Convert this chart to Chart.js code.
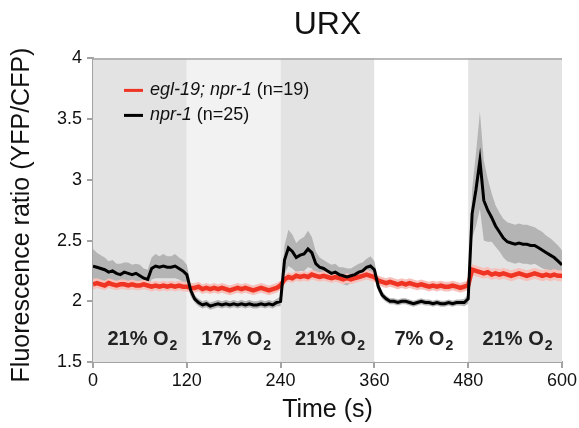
<!DOCTYPE html>
<html>
<head>
<meta charset="utf-8">
<script src="https://cdn.jsdelivr.net/npm/chart.js@4/dist/chart.umd.min.js"></script>
<style>
html,body{margin:0;padding:0;background:#fff;}
#wrap{width:579px;height:428px;position:relative;}
</style>
</head>
<body>
<div id="wrap"><canvas id="c" width="579" height="428"></canvas></div>
<script>
// ---- data ----
const times = [
0,5,10,15,20,25,30,35,40,45,
50,55,60,65,70,75,80,85,90,95,
100,105,110,115,120,125,130,135,140,145,
150,155,160,165,170,175,180,185,190,195,
200,205,210,215,220,225,230,235,240,245,
250,255,260,265,270,275,280,285,290,295,
300,305,310,315,320,325,330,335,340,345,
350,355,360,365,370,375,380,385,390,395,
400,405,410,415,420,425,430,435,440,445,
450,455,460,465,470,475,480,485,490,495,
500,505,510,515,520,525,530,535,540,545,
550,555,560,565,570,575,580,585,590,595,
600];
const nprMean = [
2.29,2.28,2.27,2.26,2.24,2.25,2.23,2.22,2.24,2.23,
2.22,2.23,2.21,2.19,2.18,2.27,2.29,2.28,2.29,2.28,
2.28,2.29,2.27,2.25,2.22,2.09,2.02,1.99,1.97,1.98,
1.96,1.97,1.98,1.97,1.98,1.97,1.98,1.97,1.98,1.97,
1.98,1.97,1.97,1.98,1.97,1.98,1.97,1.99,2.00,2.34,
2.44,2.41,2.36,2.38,2.39,2.43,2.40,2.31,2.28,2.27,
2.25,2.23,2.24,2.22,2.21,2.20,2.21,2.22,2.24,2.25,
2.28,2.29,2.26,2.12,2.05,2.02,2.00,2.00,1.99,2.00,
2.00,1.99,1.98,1.99,2.00,1.99,1.99,1.98,1.99,1.98,
1.98,1.99,1.98,1.99,1.99,1.99,2.02,2.72,2.92,3.16,
2.83,2.75,2.69,2.62,2.57,2.52,2.49,2.48,2.47,2.48,
2.47,2.47,2.46,2.46,2.44,2.42,2.40,2.38,2.36,2.33,
2.30];
const nprSem = [
0.14,0.12,0.11,0.10,0.09,0.09,0.08,0.09,0.08,0.09,
0.08,0.08,0.09,0.08,0.08,0.09,0.10,0.09,0.10,0.09,
0.09,0.10,0.09,0.09,0.08,0.05,0.03,0.03,0.03,0.03,
0.03,0.03,0.03,0.03,0.03,0.03,0.03,0.03,0.03,0.03,
0.03,0.03,0.03,0.03,0.03,0.03,0.03,0.03,0.04,0.12,
0.15,0.14,0.12,0.13,0.14,0.15,0.13,0.10,0.08,0.07,
0.07,0.07,0.07,0.06,0.07,0.07,0.06,0.07,0.07,0.07,
0.07,0.08,0.07,0.04,0.03,0.025,0.025,0.025,0.025,0.025,
0.025,0.025,0.025,0.025,0.025,0.025,0.025,0.025,0.025,0.025,
0.025,0.025,0.025,0.025,0.025,0.03,0.04,0.20,0.30,0.40,
0.33,0.26,0.20,0.17,0.16,0.16,0.16,0.16,0.16,0.16,
0.16,0.16,0.16,0.15,0.15,0.15,0.14,0.14,0.13,0.13,
0.12];
const eglMean = [
2.14,2.15,2.14,2.13,2.15,2.14,2.13,2.14,2.14,2.13,
2.14,2.13,2.13,2.14,2.13,2.12,2.13,2.12,2.13,2.12,
2.13,2.12,2.13,2.12,2.12,2.11,2.11,2.12,2.10,2.11,
2.10,2.11,2.10,2.11,2.10,2.09,2.10,2.11,2.10,2.11,
2.10,2.09,2.10,2.11,2.10,2.09,2.10,2.11,2.13,2.18,
2.20,2.19,2.21,2.20,2.21,2.20,2.22,2.21,2.20,2.21,
2.20,2.19,2.20,2.19,2.18,2.19,2.18,2.19,2.20,2.21,
2.22,2.21,2.20,2.17,2.16,2.15,2.16,2.15,2.14,2.15,
2.14,2.15,2.14,2.13,2.14,2.13,2.12,2.13,2.12,2.13,
2.12,2.12,2.13,2.12,2.11,2.12,2.13,2.26,2.25,2.24,
2.23,2.24,2.22,2.23,2.22,2.23,2.22,2.21,2.22,2.23,
2.22,2.21,2.22,2.23,2.22,2.21,2.22,2.21,2.22,2.21,
2.21];
const eglSem = [
0.045,0.04,0.04,0.04,0.04,0.04,0.04,0.04,0.04,0.04,
0.04,0.04,0.04,0.04,0.04,0.04,0.04,0.04,0.04,0.04,
0.04,0.04,0.04,0.04,0.04,0.04,0.04,0.04,0.04,0.04,
0.04,0.04,0.04,0.04,0.04,0.04,0.04,0.04,0.04,0.04,
0.04,0.04,0.04,0.04,0.04,0.04,0.04,0.04,0.04,0.04,
0.04,0.04,0.04,0.04,0.04,0.04,0.04,0.04,0.04,0.04,
0.04,0.04,0.04,0.04,0.04,0.04,0.04,0.04,0.04,0.04,
0.04,0.04,0.04,0.04,0.04,0.04,0.04,0.04,0.04,0.04,
0.04,0.04,0.04,0.04,0.04,0.04,0.04,0.04,0.04,0.04,
0.04,0.04,0.04,0.04,0.04,0.04,0.04,0.045,0.045,0.045,
0.045,0.045,0.045,0.045,0.045,0.045,0.045,0.045,0.045,0.045,
0.045,0.045,0.045,0.045,0.045,0.045,0.045,0.045,0.045,0.045,
0.045];
const periodStarts = [0,120,240,360,480];
const periodEnds = [120,240,360,480,600];
const periodO2 = ["21%","17%","21%","7%","21%"];
const xTicks = [0,120,240,360,480,600];
const yTicks = [1.5,2,2.5,3,3.5,4];
const yTitle = "Fluorescence ratio (YFP/CFP)";
const seriesNames = [
  {italic:"egl-19; npr-1", plain:" (n=19)"},
  {italic:"npr-1", plain:" (n=25)"}
];

// ---- style ----
const FONT = "'Liberation Sans', Arial, Helvetica, sans-serif";
const RED = "rgb(240,52,36)";
const PINK = "rgb(246,192,187)";
const GREY_BAND = "rgb(180,180,180)";
const AXIS = "#a3a3a3";
const TXT = "#111";
const periodBg = ["rgb(227,227,227)","rgb(242,242,242)","rgb(227,227,227)","rgb(255,255,255)","rgb(227,227,227)"];

function pts(vals){ return times.map((t,i)=>({x:t,y:vals[i]})); }
const nprUp = nprMean.map((v,i)=>v+nprSem[i]);
const nprLo = nprMean.map((v,i)=>v-nprSem[i]);
const eglUp = eglMean.map((v,i)=>v+eglSem[i]);
const eglLo = eglMean.map((v,i)=>v-eglSem[i]);

const bgPlugin = {
  id:'bgPlugin',
  beforeDatasetsDraw(chart){
    const {ctx, chartArea:a, scales:{x}} = chart;
    ctx.save();
    periodStarts.forEach((s,i)=>{
      const x0 = x.getPixelForValue(s), x1 = x.getPixelForValue(periodEnds[i]);
      ctx.fillStyle = periodBg[i];
      ctx.fillRect(x0, a.top, x1-x0, a.bottom-a.top);
    });
    ctx.strokeStyle = AXIS; ctx.lineWidth = 1.5;
    ctx.beginPath(); ctx.moveTo(a.left, a.top+0.5); ctx.lineTo(a.right, a.top+0.5); ctx.stroke();
    ctx.restore();
  },
  afterDatasetsDraw(chart){
    const {ctx, chartArea:a, scales:{x,y}} = chart;
    ctx.save();
    ctx.fillStyle = "#222";
    ctx.textBaseline = 'alphabetic';
    periodStarts.forEach((s,i)=>{
      const cx = x.getPixelForValue((s+periodEnds[i])/2);
      const main = periodO2[i] + " O";
      ctx.font = "bold 20px " + FONT;
      const w1 = ctx.measureText(main).width;
      ctx.font = "bold 14px " + FONT;
      const w2 = ctx.measureText("2").width;
      const left = cx - (w1+w2)/2 + 2;
      const base = y.getPixelForValue(1.64);
      ctx.font = "bold 20px " + FONT;
      ctx.fillText(main, left, base);
      ctx.font = "bold 14px " + FONT;
      ctx.fillText("2", left + w1 + 1, base + 5);
    });
    const lx0 = a.left + 31, lx1 = a.left + 50, tx = a.left + 57;
    const rows = [{c:RED, y:a.top+32}, {c:'#000', y:a.top+57}];
    rows.forEach((r,i)=>{
      ctx.strokeStyle = r.c; ctx.lineWidth = 3;
      ctx.beginPath(); ctx.moveTo(lx0, r.y); ctx.lineTo(lx1, r.y); ctx.stroke();
      ctx.fillStyle = TXT; ctx.textBaseline = 'middle';
      ctx.font = "italic 18px " + FONT;
      ctx.fillText(seriesNames[i].italic, tx, r.y);
      const w = ctx.measureText(seriesNames[i].italic).width;
      ctx.font = "18px " + FONT;
      ctx.fillText(seriesNames[i].plain, tx + w, r.y);
    });
    // y-axis title
    ctx.fillStyle = TXT;
    ctx.font = "25px " + FONT;
    ctx.textAlign = 'center';
    ctx.textBaseline = 'middle';
    ctx.translate(22, 215);
    ctx.rotate(-Math.PI/2);
    ctx.fillText(yTitle, 0, 0);
    ctx.restore();
  }
};

new Chart(document.getElementById('c'), {
  type:'line',
  data:{ datasets:[
    {label:'npr-1', data:pts(nprMean), borderColor:'#000', borderWidth:3, pointRadius:0, fill:false, order:0},
    {label:'egl-19; npr-1', data:pts(eglMean), borderColor:RED, borderWidth:4.5, pointRadius:0, fill:false, order:1},
    {label:'egl up', data:pts(eglUp), borderWidth:0, borderColor:'rgba(0,0,0,0)', backgroundColor:PINK, pointRadius:0, fill:'+1', order:2},
    {label:'egl lo', data:pts(eglLo), borderWidth:0, borderColor:'rgba(0,0,0,0)', pointRadius:0, fill:false, order:3},
    {label:'npr up', data:pts(nprUp), borderWidth:0, borderColor:'rgba(0,0,0,0)', backgroundColor:GREY_BAND, pointRadius:0, fill:'+1', order:4},
    {label:'npr lo', data:pts(nprLo), borderWidth:0, borderColor:'rgba(0,0,0,0)', pointRadius:0, fill:false, order:5}
  ]},
  options:{
    responsive:false, animation:false,
    layout:{padding:{left:0,right:16,top:0,bottom:0}},
    plugins:{
      legend:{display:false}, tooltip:{enabled:false},
      title:{display:true, text:'URX', fullSize:false, color:TXT, font:{family:FONT, size:32, weight:'normal'}, padding:{top:6,bottom:14}}
    },
    scales:{
      x:{type:'linear', min:0, max:600,
        afterBuildTicks(s){ s.ticks = xTicks.map(v=>({value:v})); },
        afterFit(s){ s.height = 66; },
        ticks:{color:TXT, font:{family:FONT, size:18}, padding:2, maxRotation:0},
        grid:{drawOnChartArea:false, drawTicks:true, tickLength:6, color:AXIS, lineWidth:2},
        border:{display:true, color:AXIS, width:2},
        title:{display:true, text:'Time (s)', color:TXT, font:{family:FONT, size:25}, padding:{top:0,bottom:3}}
      },
      y:{min:1.5, max:4,
        afterBuildTicks(s){ s.ticks = yTicks.map(v=>({value:v})); },
        afterFit(s){ s.width = 93; },
        ticks:{color:TXT, font:{family:FONT, size:18}, padding:5, callback:(v)=>String(v)},
        grid:{drawOnChartArea:false, drawTicks:true, tickLength:6, color:AXIS, lineWidth:2},
        border:{display:true, color:AXIS, width:2},
        title:{display:false}
      }
    }
  },
  plugins:[bgPlugin]
});
</script>
</body>
</html>
